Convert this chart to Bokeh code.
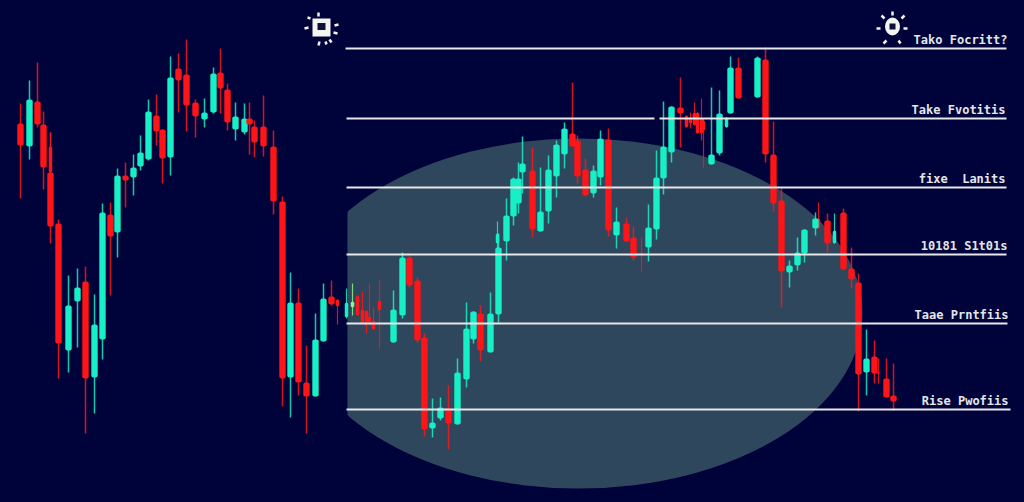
from bokeh.plotting import figure
from bokeh.models import Range1d, ColumnDataSource
from bokeh.embed import file_html
from bokeh.resources import INLINE
from bokeh.core.properties import value

# candles: centre position, body top / bottom, wick top / bottom, direction
main_x = [20,29,37,43,50,58,68,77,85,94,102,110,117,125,133,140,148,156,162,170,178,186,195,204,213,220,227,235,244,249,254,263,273,282,290,298,306,315,323,331,
          393,402,409,417,424,432,440,448,457,466,473,480,490,498,506,513,518,522,532,540,548,556,564,572,577,585,593,600,608,616,626,633,648,656,663,671,680,711,719,730,738,757,765,773,781,789,797,804,815,827,843,851,858,866,874,886,893]
main_top = [123,99,101,124,172,223,305,287,281,324,212,214,175,175,167,152,111,115,129,77,68,74,102,112,73,72,89,116,118,118,126,126,146,201,302,302,382,339,298,296,
            309,257,257,280,337,422,407,408,372,328,311,313,313,247,215,178,178,163,170,211,169,144,128,133,140,169,170,138,139,221,223,237,227,177,146,106,107,154,113,67,67,57,59,154,200,265,252,229,218,220,212,268,282,358,356,378,395]
main_bot = [145,146,124,167,226,343,350,301,378,377,339,236,232,180,177,166,159,131,158,157,80,105,116,119,112,88,122,129,132,124,142,146,201,378,377,382,396,396,341,304,
            342,315,285,340,429,428,418,423,424,379,339,350,352,314,241,216,203,172,229,231,211,176,154,146,176,195,193,177,230,235,241,257,247,229,178,152,113,164,153,113,98,97,154,203,271,272,265,253,228,243,269,279,374,372,373,397,401]
main_wick_top = [103,80,62,111,132,219,275,268,266,294,203,202,168,162,154,135,99,94,129,56,53,39,99,98,67,48,83,102,103,102,120,95,130,196,272,288,345,313,283,280,
                 290,252,252,277,333,398,397,385,358,302,311,305,292,233,198,177,162,136,147,167,155,140,122,82,135,158,165,130,128,207,217,226,204,150,101,106,77,87,90,56,57,56,47,121,188,260,237,229,212,213,208,247,273,329,340,358,363]
main_wick_bot = [198,159,127,189,243,378,372,347,433,413,359,295,257,207,195,170,160,145,183,175,112,131,137,127,113,113,130,140,134,154,157,156,214,406,417,395,433,396,341,305,
                 342,318,287,342,436,437,420,449,424,387,343,361,352,322,260,225,213,193,237,231,223,197,168,146,183,196,197,185,236,248,241,260,261,239,194,162,147,164,155,113,98,97,162,211,307,287,270,262,235,252,270,288,411,395,383,397,410]
main_dir = list("rtrrrrttrttrtrtttrrtrrrttrrttrrrrrtrrttr" +
                "ttrrrttrtttrttttttrttttrrrttrtrrttttrtttrtrrrttttrrrrtrrr")

minor_x = [50,337,346,352,357,362,366,369,373,379,497,641,686,690,694,697,701,703,726,818,834,878]
minor_top = [146,299,302,301,295,309,310,316,320,300,233,252,115,118,112,112,118,120,117,218,230,372]
minor_bot = [172,306,317,307,315,323,325,322,329,310,243,255,127,123,125,133,133,130,127,228,243,373]
minor_wick_top = [132,299,288,283,295,291,310,283,307,279,221,237,115,112,102,112,98,118,117,202,213,358]
minor_wick_bot = [172,324,318,315,315,323,333,325,329,348,250,272,127,128,125,133,140,167,127,228,243,383]
minor_dir = list("rrtlrrrrrrtrrrrrrrtrtr")

level_y = [48, 118, 118, 187, 254, 323, 409]
level_start = [345, 346, 659, 346, 346, 346, 346]
level_end = [1006, 654, 1006, 1006, 1006, 1007, 1010]
label_text = ["Tako Focritt?", "Take Fvotitis", "fixe\u00a0\u00a0Lanits", "10181 S1t01s", "Taae Prntfiis", "Rise\u00a0Pwofiis"]
label_right = [1007, 1005, 1005, 1007, 1008, 1008]
label_y = [39, 109, 178, 245, 314, 400]

BG = "#00033a"
COL = {"r": "#ff1418", "t": "#17efc6", "l": "#8ef28a"}

p = figure(width=1024, height=502, output_backend="svg", toolbar_location=None,
           x_range=Range1d(0, 1024), y_range=Range1d(502, 0),
           background_fill_color=BG, border_fill_color=BG, min_border=0)
p.axis.visible = False
p.grid.visible = False
p.outline_line_color = None

p.ellipse(x=[578], y=[313], width=[568], height=[350], fill_color="#2e475d", line_color=None)
p.quad(left=[0], right=[347], top=[100], bottom=[502], fill_color=BG, line_color=None)

def candles(xs, top, bot, wt, wb, dirs, w, wick_w):
    cols = [COL[d] for d in dirs]
    src = ColumnDataSource(dict(x=xs, top=top, bot=bot, wt=wt, wb=wb, c=cols))
    p.segment(x0="x", x1="x", y0="wt", y1="wb", source=src, line_color="c", line_width=wick_w, line_alpha=0.85)
    p.vbar(x="x", width=w, top="top", bottom="bot", source=src, fill_color="c", line_color=None, border_radius=2)

candles(minor_x, minor_top, minor_bot, minor_wick_top, minor_wick_bot, minor_dir, 3.5, 1.2)
candles(main_x, main_top, main_bot, main_wick_top, main_wick_bot, main_dir, 6.4, 1.5)

p.segment(x0=level_start, x1=level_end, y0=level_y, y1=level_y, line_color="#e6e8ea", line_width=1.8)
p.text(x=label_right, y=label_y, text=label_text, text_align="right", text_baseline="middle",
       text_color="#e4e6ea", text_font=value("DejaVu Sans Mono"), text_font_size="12px", text_font_style="bold")

# small icons above the chart
ray_x0 = [318,307,304,338,337,318,326,331, 892,881,904,876,907,883,900]
ray_y0 = [12,17,28,24,33,45,44,42, 11,15,15,28,28,43,43]
ray_x1 = [318,310,308,334,333,319,325,329, 892,884,901,880,903,886,898]
ray_y1 = [16,18,27,25,32,41,41,39, 15,18,18,28,28,40,40]
p.segment(x0=ray_x0, x1=ray_x1, y0=ray_y0, y1=ray_y1, line_color="#f2f2f0", line_width=2.5)
p.rect(x=[321], y=[27], width=[18], height=[18], fill_color="#f4f4f0", line_color=None)
p.ellipse(x=[892], y=[26], width=[15], height=[18], fill_color="#f4f4f0", line_color=None)
p.rect(x=[321, 892], y=[26, 26], width=[8, 6], height=[7, 6], fill_color="#10103a", line_color=None)

html = file_html(p, INLINE)
html = html.replace("<head>", "<head><style>html,body{margin:0;padding:0;overflow:hidden;background:%s}</style>" % BG, 1)
open("out.html", "w").write(html)
